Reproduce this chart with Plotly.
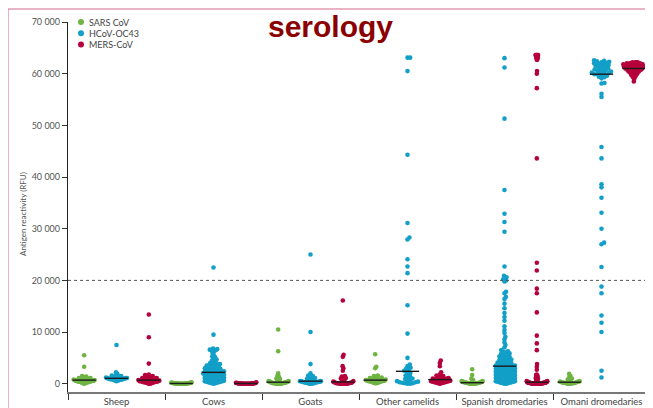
import numpy as np
import plotly.graph_objects as go

groups = ["Sheep", "Cows", "Goats", "Other camelids", "Spanish dromedaries", "Omani dromedaries"]
series_names = ["SARS CoV", "HCoV-OC43", "MERS-CoV"]
series_colors = ["#6fb443", "#129fc8", "#b6003d"]

# antigen reactivity (RFU)
sheep_sars = [5500, 3300, 1500, 1400, 1300, 1300, 1200, 1100, 1100, 1000, 1000, 900, 900, 900, 800, 800,
              800, 700, 700, 700, 700, 600, 600, 600, 600, 500, 500, 500, 500, 400, 400, 400, 300, 300,
              300, 200, 200, 100, 100, 0]
sheep_hcov = [7500, 2200, 1900, 1700, 1600, 1500, 1500, 1400, 1400, 1300, 1300, 1300, 1200, 1200, 1200,
              1100, 1100, 1100, 1100, 1000, 1000, 1000, 1000, 900, 900, 900, 900, 900, 800, 800, 800, 800,
              700, 700, 700, 600, 600, 500]
sheep_mers = [13400, 9000, 3900, 1800, 1700, 1500, 1400, 1300, 1300, 1200, 1200, 1100, 1100, 1000, 1000,
              900, 900, 800, 800, 700, 700, 700, 600, 600, 600, 500, 500, 500, 400, 400, 400, 300, 300,
              300, 200, 200, 100, 100, 0, 0]

cows_sars = [300, 250, 200, 200, 200, 150, 150, 150, 150, 100, 100, 100, 100, 100, 100, 50, 50, 50, 50,
             50, 50, 50, 0, 0, 0, 0, 0, 0, 0, 0, 0, 0]
cows_hcov = [22500, 9500, 6800, 6700, 6600, 6500, 6500, 6300, 6000, 5600, 5300, 5100, 4900, 4700, 4500,
             4300, 4200, 4000, 3900, 3800, 3800, 3700, 3600, 3500, 3500, 3400, 3300, 3300, 3200, 3100,
             3000, 3000, 2900, 2800, 2800, 2700, 2600, 2600, 2500, 2500, 2400, 2400, 2300, 2300, 2200,
             2200, 2100, 2100, 2000, 2000, 2000, 1900, 1900, 1800, 1800, 1700, 1700, 1600, 1600, 1500,
             1500, 1400, 1400, 1300, 1300, 1200, 1200, 1100, 1100, 1000, 1000, 900, 900, 800, 800, 700,
             700, 600, 600, 500, 500, 400, 400, 300, 300, 200, 200, 100, 100, 0]
cows_mers = [300, 200, 200, 150, 150, 150, 100, 100, 100, 100, 100, 100, 50, 50, 50, 50, 50, 50, 50, 50,
             0, 0, 0, 0, 0, 0, 0, 0, 0, 0, 0, 0, 0, 0]

goats_sars = [10500, 6300, 2000, 1500, 1300, 1200, 1000, 900, 800, 700, 600, 500, 500, 400, 400, 300, 300,
              300, 200, 200, 200, 200, 100, 100, 100, 100, 100, 0, 0, 0, 0, 0, 0]
goats_hcov = [25000, 10000, 3800, 2000, 1600, 1500, 1400, 1300, 1200, 1100, 1000, 900, 800, 700, 700, 600,
              600, 500, 500, 500, 400, 400, 400, 300, 300, 300, 300, 200, 200, 200, 100, 100, 100, 0, 0, 0]
goats_mers = [16100, 5600, 5200, 3400, 3000, 2500, 1500, 1400, 1300, 1200, 1100, 1000, 900, 800, 700, 600,
              500, 400, 300, 300, 200, 200, 200, 100, 100, 100, 100, 100, 0, 0, 0, 0, 0, 0, 0, 0]

other_sars = [5700, 3300, 3000, 1600, 1500, 1400, 1300, 1200, 1100, 1000, 1000, 900, 900, 800, 800, 800,
              700, 700, 700, 600, 600, 600, 500, 500, 500, 400, 400, 300, 300, 200, 200, 100, 100]
other_hcov = [63100, 63100, 60500, 44300, 31100, 28300, 27900, 24100, 22700, 21400, 15200, 9700, 5000,
              3700, 3400, 3100, 2900, 2700, 2500, 2300, 2100, 1800, 1600, 1400, 1200, 1000, 900, 700, 600,
              500, 400, 300, 300, 200, 100, 100, 0, 0]
other_mers = [4500, 4000, 3400, 2200, 1800, 1600, 1500, 1400, 1300, 1200, 1100, 1000, 1000, 900, 900, 800,
              800, 700, 700, 600, 600, 500, 500, 400, 400, 300, 300, 200, 200, 100, 100, 0]

spain_sars = [2800, 1700, 1000, 700, 600, 500, 500, 400, 400, 300, 300, 300, 200, 200, 200, 200, 100, 100,
              100, 100, 0, 0, 0, 0, 0, 0]
spain_hcov = [63000, 61200, 51300, 37500, 32900, 31300, 29400, 22700, 20900, 20600, 20400, 20200, 20000,
              19800, 17800, 17500, 16800, 16400, 15500, 14600, 13700, 12900, 12200, 11100, 10400, 9800,
              9100, 8600, 8000, 7500, 7000, 6500,
              6300, 6200, 6100, 6000, 5900, 5800, 5700, 5600, 5500, 5400, 5300, 5200, 5100, 5000, 4900,
              4800, 4800, 4700, 4600, 4500, 4500, 4400, 4300, 4200, 4200, 4100, 4000, 4000, 3900, 3800,
              3800, 3700, 3600, 3600, 3500, 3500, 3400, 3400,
              3300, 3300, 3200, 3200, 3100, 3100, 3000, 3000, 2900, 2900, 2800, 2800, 2700, 2700, 2600,
              2600, 2500, 2500, 2400, 2400, 2300, 2300, 2200, 2200, 2100, 2100, 2000, 2000, 1900, 1900,
              1800, 1800, 1700, 1700, 1600, 1600, 1500, 1500, 1400, 1400, 1300, 1300, 1200, 1200, 1100,
              1100, 1000, 1000, 900, 900, 800, 800, 700, 700, 600, 600, 500, 500, 400, 400, 300, 300,
              200, 200, 100, 100, 0, 0]
spain_mers = [63600, 63600, 63600, 63600, 63600, 63100, 63100, 63100, 63100, 62700, 62700, 60500, 60000,
              57200, 43600, 23400, 21900, 18400, 17500, 13800, 9300, 7800, 6500, 3800, 3300, 2700, 1800,
              1700, 1500, 1400, 1300, 1200, 1100, 1000, 900, 800, 700, 600, 600, 500, 500, 400, 400, 400,
              300, 300, 300, 300, 200, 200, 200, 200, 200, 200, 200, 200, 200, 200, 200, 200, 100, 100,
              100, 100, 100, 100, 100, 100, 100, 100, 100, 100, 100, 100, 100, 0, 0, 0, 0, 0, 0, 0, 0, 0,
              0, 0, 0, 0, 0, 0, 0, 0, 0]

omani_sars = [1900, 1500, 1200, 1000, 800, 700, 600, 500, 400, 400, 300, 300, 200, 200, 200, 100, 100,
              100, 0, 0, 0]
omani_hcov = [62600, 62500, 62400, 62300, 62200, 62100, 62000, 61900, 61800, 61700, 61600, 61500, 61400,
              61300, 61200, 61000, 60900, 60800, 60700, 60600, 60500, 60400, 60300, 60200, 60100, 60000,
              59900, 59900, 59800, 59600, 59400, 59300, 59100, 58200, 58100, 56100, 55500, 45800, 43600,
              38600, 38000, 36000, 33100, 30000, 27300, 27000, 22600, 18800, 17500, 13200, 11800, 10000,
              2500, 1200]
omani_mers = [62200, 62200, 62200, 62200,
              62000, 62000, 62000, 62000, 62000, 62000,
              61800, 61800, 61800, 61800, 61800, 61800, 61800,
              61600, 61600, 61600, 61600, 61600, 61600, 61600, 61600,
              61400, 61400, 61400, 61400, 61400, 61400, 61400, 61400,
              61200, 61200, 61200, 61200, 61200, 61200, 61200, 61200,
              61000, 61000, 61000, 61000, 61000, 61000, 61000, 61000,
              60800, 60800, 60800, 60800, 60800, 60800, 60800,
              60600, 60600, 60600, 60600, 60600, 60600,
              60400, 60400, 60400, 60400, 60400,
              60200, 60200, 60200, 60200,
              60000, 60000, 60000, 59800, 59800, 59800, 59600, 59600, 59400, 59400, 59200, 59000, 58500]

data = [
    [sheep_sars, sheep_hcov, sheep_mers],
    [cows_sars, cows_hcov, cows_mers],
    [goats_sars, goats_hcov, goats_mers],
    [other_sars, other_hcov, other_mers],
    [spain_sars, spain_hcov, spain_mers],
    [omani_sars, omani_hcov, omani_mers],
]

# the page body adds an 8px margin, so the figure is 8px smaller than the window
OFF = 8
W, H = 653 - OFF, 408 - OFF
L, R, T, B = 60, 3, 14, 16
PW, PH = W - L - R, H - T - B
YMIN, YMAX = -1600, 70000
PX_PER_X = PW / 18.0
PX_PER_Y = PH / (YMAX - YMIN)


def swarm(values, d=3.0, maxw=10.5):
    # simple beeswarm in pixel space, then squeezed to a max half-width
    ys = np.asarray(values, dtype=float) * PX_PER_Y
    xs = np.zeros(len(ys))
    placed = []
    for i in np.argsort(ys, kind="stable"):
        y = ys[i]
        near = [(px, py) for px, py in placed if abs(py - y) < d]
        cands = [0.0]
        for px, py in near:
            dx = np.sqrt(d * d - (py - y) ** 2)
            cands += [px + dx, px - dx]
        cands.sort(key=abs)
        for c in cands:
            if all((c - px) ** 2 + (y - py) ** 2 >= d * d - 1e-6 for px, py in near):
                xs[i] = c
                break
        placed.append((xs[i], y))
    m = np.abs(xs).max() if len(xs) else 0
    if m > maxw:
        xs *= maxw / m
    return xs / PX_PER_X


fig = go.Figure()

med_x, med_y = [], []
for gi, grp in enumerate(data):
    for si, vals in enumerate(grp):
        cx = gi * 3 + si + 0.5
        offs = swarm(vals)
        fig.add_trace(go.Scatter(
            x=cx + offs, y=vals, mode="markers",
            marker=dict(size=4.6, color=series_colors[si], line=dict(width=0)),
            showlegend=False, hoverinfo="y",
        ))
        med = float(np.median(vals))
        med_x += [cx - 0.36, cx + 0.36, None]
        med_y += [med, med, None]

fig.add_trace(go.Scatter(x=med_x, y=med_y, mode="lines", line=dict(color="#1a1a1a", width=1.4),
                         showlegend=False, hoverinfo="skip"))


def px_to_paper(sx, sy):
    # screen pixel -> paper coords
    px, py = sx - OFF, sy - OFF
    return (px - L) / PW, (H - B - py) / PH


shapes = []
annotations = []

# dotted threshold line
shapes.append(dict(type="line", xref="paper", yref="y", x0=0, x1=1, y0=20000, y1=20000,
                   line=dict(color="#555", width=1, dash="dot")))

# pink frame around the panel
fx0, fy0 = px_to_paper(8, 9)
fx1, fy1 = px_to_paper(653 + 10, 408 + 10)
shapes.append(dict(type="rect", xref="paper", yref="paper", x0=fx0, x1=fx1, y0=fy1, y1=fy0,
                   line=dict(color="#d4698a", width=1), fillcolor="rgba(0,0,0,0)"))

# legend
for k, (name, col) in enumerate(zip(series_names, series_colors)):
    py = 22 + k * 11.2
    x0, y0 = px_to_paper(81 - 3, py + 3)
    x1, y1 = px_to_paper(81 + 3, py - 3)
    shapes.append(dict(type="circle", xref="paper", yref="paper", x0=x0, x1=x1, y0=y0, y1=y1,
                       fillcolor=col, line=dict(width=0)))
    tx, ty = px_to_paper(87, py)
    annotations.append(dict(text=name, x=tx, y=ty, xref="paper", yref="paper", xanchor="left",
                            yanchor="middle", showarrow=False, font=dict(size=9, color="#444")))

# y axis title
ax, ay = px_to_paper(23, 214)
annotations.append(dict(text="Antigen reactivity (RFU)", x=ax, y=ay, xref="paper", yref="paper",
                        textangle=-90, showarrow=False, xanchor="center", yanchor="middle",
                        font=dict(size=8, color="#555")))

# title
tx, ty = px_to_paper(330, 27)
annotations.append(dict(text="<b>serology</b>", x=tx, y=ty, xref="paper", yref="paper",
                        showarrow=False, xanchor="center", yanchor="middle",
                        font=dict(family="Liberation Sans, Arial", size=30, color="#8b0000")))

fig.update_layout(
    width=W, height=H,
    margin=dict(l=L, r=R, t=T, b=B, autoexpand=False),
    paper_bgcolor="white", plot_bgcolor="white",
    font=dict(family="Lato, Open Sans, sans-serif", size=9, color="#555"),
    separators=". ",
    shapes=shapes, annotations=annotations,
    showlegend=False,
)
fig.update_xaxes(
    range=[0, 18], showgrid=False, zeroline=False,
    showline=True, linecolor="#777", linewidth=2,
    tickmode="array", tickvals=[3 * i + 1.5 for i in range(len(groups))], ticktext=groups,
    ticks="", tickfont=dict(size=9.5, color="#444"), automargin=False,
    minor=dict(tickmode="array", tickvals=[3 * i for i in range(len(groups) + 1)],
               ticks="outside", ticklen=6, tickwidth=1.2, tickcolor="#333", showgrid=False),
)
fig.update_yaxes(
    range=[YMIN, YMAX], showgrid=False, zeroline=False,
    showline=True, linecolor="#222", linewidth=1.3,
    tickmode="array", tickvals=list(range(0, 70001, 10000)), tickformat=",d",
    ticks="outside", ticklen=5, tickwidth=1.2, tickcolor="#333",
    tickfont=dict(size=9, color="#555"), automargin=False,
)

fig.write_html("out.html")
